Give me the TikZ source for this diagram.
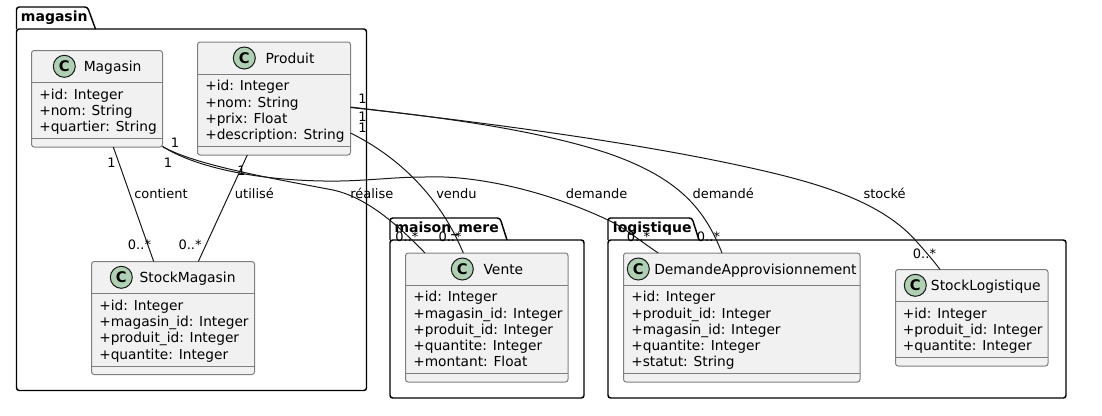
\documentclass[tikz,border=0pt]{standalone}
\usepackage{fontspec}
\setmainfont{DejaVu Sans}
\usepackage{xcolor}
\definecolor{boxfill}{HTML}{F1F1F1}
\definecolor{boxbd}{HTML}{7F7F7F}
\definecolor{spot}{HTML}{ADD1B2}
\definecolor{inkline}{HTML}{181818}
\usetikzlibrary{calc}

\begin{document}
\begin{tikzpicture}[
        x=0.75pt, y=-0.75pt,
        box_size/.style n args={2}{minimum width=#1*0.75pt, minimum height=#2*0.75pt},
        package_node/.style={rectangle, rounded corners=2pt, draw=black, line width=1.1pt, anchor=north west, inner sep=0pt, outer sep=0pt},
        tab_line/.style={draw=black, line width=1.1pt, rounded corners=2pt},
        package_name/.style={anchor=west, inner sep=0pt, text height=8.5pt, text depth=2pt, font=\fontsize{10.5}{12}\selectfont\bfseries},
        class_node/.style={rectangle, rounded corners=2pt, draw=boxbd, fill=boxfill, line width=0.75pt, anchor=north west, inner sep=0pt, outer sep=0pt},
        sep_line/.style={draw=boxbd, line width=0.75pt},
        spot_node/.style={circle, draw=inkline, fill=spot, line width=0.75pt, minimum size=16.5pt, inner sep=0pt, font=\fontsize{11}{12}\selectfont\bfseries},
        class_title/.style={anchor=west, inner sep=0pt, text height=9.5pt, text depth=2pt, font=\fontsize{10.4}{12}\selectfont},
        attr_text/.style={anchor=north west, inner sep=0pt, align=left, font=\fontsize{10.3}{12.2}\selectfont},
        edge_label/.style={anchor=west, inner sep=0pt, text height=7.5pt, text depth=2pt, font=\fontsize{9.75}{11}\selectfont},
        arrow/.style={draw=inkline, line width=0.75pt}
    ]

    \useasboundingbox (0,0) rectangle (1102,415);

    % Packages
    \node[package_node, box_size={350}{361.5}] (pkg_magasin) at (16.5,29) {};
    \draw[tab_line] (pkg_magasin.north west) -- ++(0,-22) -- ++(71,0) -- ($(pkg_magasin.north west)+(79,0)$);
    \node[package_name] (pkg_magasin_name) at (20.7,17.5) {magasin};

    \node[package_node, box_size={194}{158}] (pkg_mere) at (390,240) {};
    \draw[tab_line] (pkg_mere.north west) -- ++(0,-22) -- ++(110,0) -- ($(pkg_mere.north west)+(117,0)$);
    \node[package_name] (pkg_mere_name) at (394.3,228.5) {maison\_mere};

    \node[package_node, box_size={458}{158}] (pkg_logistique) at (608,240) {};
    \draw[tab_line] (pkg_logistique.north west) -- ++(0,-22) -- ++(84,0) -- ($(pkg_logistique.north west)+(91,0)$);
    \node[package_name] (pkg_logistique_name) at (612.7,228.5) {logistique};

    % Classes
    \node[class_node, box_size={131}{96.5}] (magasin) at (31.5,50.5) {};
    \draw[sep_line] ($(magasin.north west)+(0,32)$) -- ($(magasin.north east)+(0,32)$);
    \draw[sep_line] ($(magasin.south west)+(0,-9)$) -- ($(magasin.south east)+(0,-9)$);
    \node[spot_node] (magasin_spot) at (64.3,66.3) {C};
    \node[class_title] (magasin_title) at (83.5,66.3) {Magasin};
    \node[attr_text] (magasin_attrs) at (39,88.6) {+id: Integer\\+nom: String\\+quartier: String};

    \node[class_node, box_size={153}{113}] (produit) at (197.5,42) {};
    \draw[sep_line] ($(produit.north west)+(0,32)$) -- ($(produit.north east)+(0,32)$);
    \draw[sep_line] ($(produit.south west)+(0,-8.5)$) -- ($(produit.south east)+(0,-8.5)$);
    \node[spot_node] (produit_spot) at (244.3,58) {C};
    \node[class_title] (produit_title) at (265.3,58) {Produit};
    \node[attr_text] (produit_attrs) at (205,80.2) {+id: Integer\\+nom: String\\+prix: Float\\+description: String};

    \node[class_node, box_size={163}{113}] (stockmagasin) at (91.5,261.5) {};
    \draw[sep_line] ($(stockmagasin.north west)+(0,32)$) -- ($(stockmagasin.north east)+(0,32)$);
    \draw[sep_line] ($(stockmagasin.south west)+(0,-8.5)$) -- ($(stockmagasin.south east)+(0,-8.5)$);
    \node[spot_node] (stockmagasin_spot) at (121.3,277.3) {C};
    \node[class_title] (stockmagasin_title) at (139.3,277.3) {StockMagasin};
    \node[attr_text] (stockmagasin_attrs) at (99,299.5) {+id: Integer\\+magasin\_id: Integer\\+produit\_id: Integer\\+quantite: Integer};

    \node[class_node, box_size={162.5}{129}] (vente) at (405.5,253) {};
    \draw[sep_line] ($(vente.north west)+(0,32)$) -- ($(vente.north east)+(0,32)$);
    \draw[sep_line] ($(vente.south west)+(0,-8.5)$) -- ($(vente.south east)+(0,-8.5)$);
    \node[spot_node] (vente_spot) at (462.3,269) {C};
    \node[class_title] (vente_title) at (483.3,269) {Vente};
    \node[attr_text] (vente_attrs) at (413,291.2) {+id: Integer\\+magasin\_id: Integer\\+produit\_id: Integer\\+quantite: Integer\\+montant: Float};

    \node[class_node, box_size={236.5}{129}] (demande) at (623.5,253) {};
    \draw[sep_line] ($(demande.north west)+(0,32)$) -- ($(demande.north east)+(0,32)$);
    \draw[sep_line] ($(demande.south west)+(0,-8.5)$) -- ($(demande.south east)+(0,-8.5)$);
    \node[spot_node] (demande_spot) at (638.3,269) {C};
    \node[class_title] (demande_title) at (654,269) {DemandeApprovisionnement};
    \node[attr_text] (demande_attrs) at (631,291.2) {+id: Integer\\+produit\_id: Integer\\+magasin\_id: Integer\\+quantite: Integer\\+statut: String};

    \node[class_node, box_size={152.5}{96.5}] (stocklogistique) at (895.5,269.5) {};
    \draw[sep_line] ($(stocklogistique.north west)+(0,32)$) -- ($(stocklogistique.north east)+(0,32)$);
    \draw[sep_line] ($(stocklogistique.south west)+(0,-8.5)$) -- ($(stocklogistique.south east)+(0,-8.5)$);
    \node[spot_node] (stocklogistique_spot) at (915.3,285.3) {C};
    \node[class_title] (stocklogistique_title) at (930.7,285.3) {StockLogistique};
    \node[attr_text] (stocklogistique_attrs) at (902.5,307.7) {+id: Integer\\+produit\_id: Integer\\+quantite: Integer};

    % Connections
    \draw[arrow] ($(magasin.south west)+(81.8,0)$) -- ($(stockmagasin.north west)+(62.2,0)$);
    \draw[arrow] ($(produit.south west)+(49.8,0)$) -- ($(stockmagasin.north west)+(106.8,0)$);
    \draw[arrow] ($(magasin.south east)+(0,-0.5)$) .. controls (195,165) and (270,178) .. (333,190) .. controls (365,197) and (395,222) .. ($(vente.north west)+(19.5,0)$);
    \draw[arrow] ($(magasin.south east)+(0,-0.5)$) .. controls (200,170) and (270,182) .. (340,181) .. controls (370,180.5) and (395,177) .. (425,177) .. controls (470,175) and (540,188) .. (608,220) .. controls (625,228) and (640,241) .. ($(demande.north west)+(34.8,0)$);
    \draw[arrow] ($(produit.north east)+(0,91)$) .. controls (385,150) and (435,185) .. ($(vente.north west)+(57.8,0)$);
    \draw[arrow] ($(produit.north east)+(0,65.5)$) .. controls (430,116) and (530,128) .. (607,153) .. controls (680,178) and (705,210) .. ($(demande.north west)+(98.5,0)$);
    \draw[arrow] ($(produit.north east)+(0,65)$) .. controls (440,118) and (620,138) .. (760,170) .. controls (830,186) and (885,205) .. (917,242) .. controls (925,251) and (933,260) .. ($(stocklogistique.north west)+(44.5,0)$);

    % Edge labels
    \node[edge_label] (lab_contient) at (134,194.5) {contient};
    \node[edge_label] (lab_utilise) at (234.7,194.5) {utilisé};
    \node[edge_label] (lab_realise) at (350,194.5) {réalise};
    \node[edge_label] (lab_vendu) at (436,194.5) {vendu};
    \node[edge_label] (lab_demande) at (565.7,194.5) {demande};
    \node[edge_label] (lab_demandee) at (692.3,194.5) {demandé};
    \node[edge_label] (lab_stocke) at (863.3,194.5) {stocké};

    % Multiplicities
    \node[edge_label] (one_a) at (107,163.7) {1};
    \node[edge_label] (one_b) at (163.5,163.7) {1};
    \node[edge_label] (one_c) at (170.5,143.7) {1};
    \node[edge_label] (one_d) at (237,172) {1};
    \node[edge_label] (one_e) at (358,100) {1};
    \node[edge_label] (one_f) at (358,118.3) {1};
    \node[edge_label] (one_g) at (358,129.3) {1};
    \node[edge_label] (many_a) at (127.7,246) {0..*};
    \node[edge_label] (many_b) at (178.3,246) {0..*};
    \node[edge_label] (many_c) at (395,237.7) {0..*};
    \node[edge_label] (many_d) at (438.3,237.7) {0..*};
    \node[edge_label] (many_e) at (626.7,237.7) {0..*};
    \node[edge_label] (many_f) at (696.7,237.7) {0..*};
    \node[edge_label] (many_g) at (912.7,255.3) {0..*};

    \end{tikzpicture}
\end{document}
